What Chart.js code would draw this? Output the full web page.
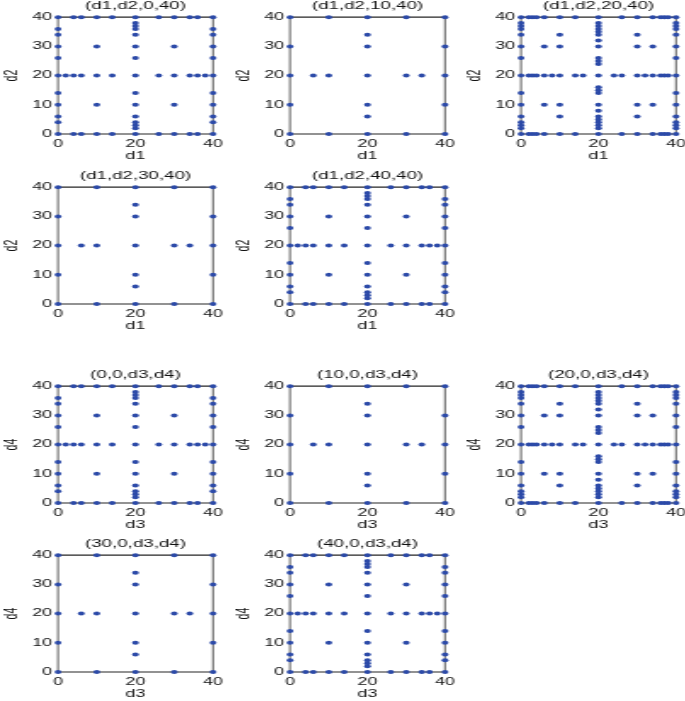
<!DOCTYPE html>
<html>
<head>
<meta charset="utf-8">
<script src="https://cdn.jsdelivr.net/npm/chart.js@4.4.1/dist/chart.umd.min.js"></script>
<style>
  body { margin: 0; background: #fff; }
  #fig { position: relative; width: 685px; height: 701px; overflow: hidden; background: #fff; }
  #fig canvas { position: absolute; transform-origin: 0 0; }
</style>
</head>
<body>
<div id="fig"></div>
<script>
// ---- data ----
const xTicks = [0, 20, 40];
const yTicks = [0, 10, 20, 30, 40];

// pattern seen in (d1,d2,0,40), (d1,d2,40,40), (0,0,d3,d4), (40,0,d3,d4)
const pointsA = [
  [0,40],[4,40],[6,40],[10,40],[14,40],[20,40],[26,40],[30,40],[34,40],[36,40],[40,40],
  [0,0],[4,0],[6,0],[10,0],[14,0],[20,0],[26,0],[30,0],[34,0],[36,0],[40,0],
  [0,4],[0,6],[0,10],[0,14],[0,20],[0,26],[0,30],[0,34],[0,36],
  [40,4],[40,6],[40,10],[40,14],[40,20],[40,26],[40,30],[40,34],[40,36],
  [2,20],[4,20],[6,20],[10,20],[14,20],[20,20],[26,20],[30,20],[34,20],[36,20],[38,20],
  [20,2],[20,3],[20,4],[20,6],[20,10],[20,14],[20,26],[20,30],[20,34],[20,36],[20,37],[20,38],
  [10,30],[30,30],[10,10],[30,10]
];

// pattern seen in (d1,d2,10,40), (d1,d2,30,40), (10,0,d3,d4), (30,0,d3,d4)
const pointsB = [
  [0,40],[10,40],[20,40],[30,40],[40,40],
  [0,0],[10,0],[20,0],[30,0],[40,0],
  [0,10],[0,20],[0,30],
  [40,10],[40,20],[40,30],
  [6,20],[10,20],[20,20],[30,20],[34,20],
  [20,6],[20,10],[20,30],[20,34]
];

// pattern seen in (d1,d2,20,40), (20,0,d3,d4)
const pointsC = [
  [0,40],[2,40],[3,40],[4,40],[6,40],[10,40],[14,40],[20,40],[26,40],[30,40],[34,40],[36,40],[37,40],[38,40],[40,40],
  [0,0],[2,0],[3,0],[4,0],[6,0],[10,0],[14,0],[20,0],[26,0],[30,0],[34,0],[36,0],[37,0],[38,0],[40,0],
  [0,2],[0,3],[0,4],[0,6],[0,10],[0,14],[0,20],[0,26],[0,30],[0,34],[0,36],[0,37],[0,38],
  [40,2],[40,3],[40,4],[40,6],[40,10],[40,14],[40,20],[40,26],[40,30],[40,34],[40,36],[40,37],[40,38],
  [2,20],[3,20],[4,20],[6,20],[8,20],[10,20],[14,20],[16,20],[20,20],[24,20],[26,20],[30,20],[32,20],[34,20],[36,20],[37,20],[38,20],
  [20,2],[20,3],[20,4],[20,5],[20,6],[20,8],[20,10],[20,14],[20,15],[20,16],
  [20,24],[20,25],[20,26],[20,30],[20,32],[20,34],[20,35],[20,36],[20,37],[20,38],
  [6,30],[10,34],[10,30],[30,34],[30,30],[34,30],
  [6,10],[10,10],[10,6],[30,10],[34,10],[30,6]
];

const titles = ['(d1,d2,0,40)', '(d1,d2,10,40)', '(d1,d2,20,40)', '(d1,d2,30,40)', '(d1,d2,40,40)',
                '(0,0,d3,d4)', '(10,0,d3,d4)', '(20,0,d3,d4)', '(30,0,d3,d4)', '(40,0,d3,d4)'];
const xLabels = ['d1', 'd1', 'd1', 'd1', 'd1', 'd3', 'd3', 'd3', 'd3', 'd3'];
const yLabels = ['d2', 'd2', 'd2', 'd2', 'd2', 'd4', 'd4', 'd4', 'd4', 'd4'];
const panelPoints = [pointsA, pointsB, pointsC, pointsB, pointsA, pointsA, pointsB, pointsC, pointsB, pointsA];

// ---- layout ----
const plotLefts = [58, 290, 521];     // page px
const plotTops = [17, 187, 386, 555];
const slots = [[0,0],[1,0],[2,0],[0,1],[1,1],[0,2],[1,2],[2,2],[0,3],[1,3]];

const SX = 1.7;            // the figure is stretched sideways
const FONT = '"Liberation Sans", Arial, Helvetica, sans-serif';
const TEXT = '#111';
const DOT = '#2c4aa8';
const Y_W = 58 / SX;       // y axis box width (internal px)
const PLOT_W = 155 / SX;
const CANVAS_W = 136;
const TITLE_H = 11 * 1.2 + 5;
const PLOT_H = 117;
const X_H = 30;

// box round the plot area (thinner sides, since they get stretched)
const frame = {
  id: 'frame',
  beforeDatasetsDraw(chart) {
    const a = chart.chartArea;
    const c = chart.ctx;
    c.save();
    c.strokeStyle = '#262626';
    c.lineWidth = 1.2;
    c.beginPath();
    c.moveTo(a.left, a.top); c.lineTo(a.right, a.top);
    c.moveTo(a.left, a.bottom); c.lineTo(a.right, a.bottom);
    c.stroke();
    c.lineWidth = 0.75;
    c.beginPath();
    c.moveTo(a.left, a.top); c.lineTo(a.left, a.bottom);
    c.moveTo(a.right, a.top); c.lineTo(a.right, a.bottom);
    c.stroke();
    c.restore();
  }
};

const fig = document.getElementById('fig');

panelPoints.forEach((pts, i) => {
  const [col, row] = slots[i];
  const cv = document.createElement('canvas');
  cv.width = CANVAS_W;
  cv.height = TITLE_H + PLOT_H + X_H;
  cv.style.left = (plotLefts[col] - 58) + 'px';
  cv.style.top = (plotTops[row] - TITLE_H) + 'px';
  cv.style.transform = 'scaleX(' + SX + ')';
  fig.appendChild(cv);

  new Chart(cv, {
    type: 'scatter',
    data: {
      datasets: [{
        data: pts.map(p => ({ x: p[0], y: p[1] })),
        backgroundColor: DOT,
        borderColor: DOT,
        borderWidth: 0,
        pointRadius: 2,
        clip: false
      }]
    },
    options: {
      responsive: false,
      animation: false,
      events: [],
      layout: { padding: { left: 0, top: 0, bottom: 0, right: CANVAS_W - Y_W - PLOT_W } },
      plugins: {
        legend: { display: false },
        tooltip: { enabled: false },
        title: {
          display: true,
          text: titles[i],
          fullSize: false,
          color: TEXT,
          font: { family: FONT, size: 11, weight: 'normal' },
          padding: { top: 0, bottom: 5 }
        }
      },
      scales: {
        x: {
          type: 'linear',
          min: 0,
          max: 40,
          grid: { display: false, drawTicks: false },
          border: { display: false },
          afterBuildTicks: s => { s.ticks = xTicks.map(v => ({ value: v })); },
          afterFit: s => { s.height = X_H; },
          ticks: {
            color: TEXT, padding: 4, autoSkip: false, maxRotation: 0, minRotation: 0,
            font: { family: FONT, size: 10.5 }
          },
          title: {
            display: true, text: xLabels[i], color: TEXT,
            font: { family: FONT, size: 10.5 },
            padding: { top: 0, bottom: 1.5 }
          }
        },
        y: {
          type: 'linear',
          min: 0,
          max: 40,
          grid: { display: false, drawTicks: false },
          border: { display: false },
          afterBuildTicks: s => { s.ticks = yTicks.map(v => ({ value: v })); },
          afterFit: s => { s.width = Y_W; },
          ticks: {
            color: TEXT, padding: 3.5, autoSkip: false,
            font: { family: FONT, size: 10.5 }
          },
          title: {
            display: true, text: yLabels[i], color: TEXT,
            font: { family: FONT, size: 10.5 },
            padding: { top: 1, bottom: 0 }
          }
        }
      }
    },
    plugins: [frame]
  });
});
</script>
</body>
</html>
